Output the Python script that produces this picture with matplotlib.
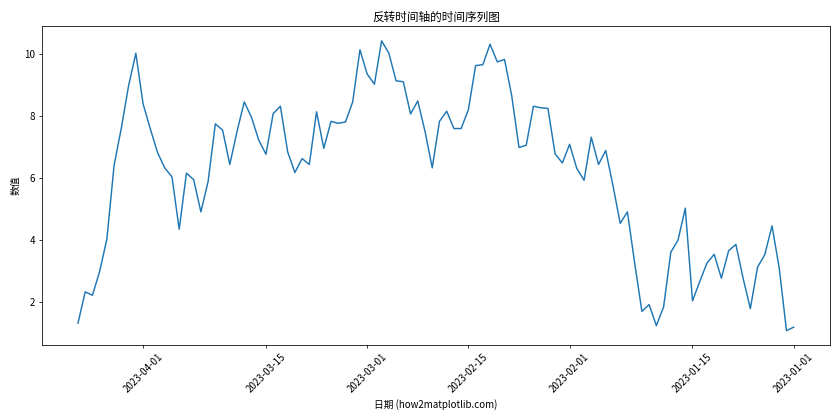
import matplotlib
matplotlib.use("Agg")
import matplotlib.pyplot as plt
import matplotlib.dates as mdates
import pandas as pd

plt.rcParams['font.family'] = ['Noto Sans CJK SC', 'DejaVu Sans']
plt.rcParams['axes.unicode_minus'] = False

# Данные (по дням, начиная с 2023-01-01)
start_date = "2023-01-01"
values = [
    1.2, 1.09, 3.1, 4.47, 3.54, 3.14, 1.8, 2.78, 3.87, 3.67,
    2.78, 3.55, 3.27, 2.67, 2.05, 5.04, 4.01, 3.62, 1.85, 1.25,
    1.93, 1.71, 3.27, 4.92, 4.55, 5.77, 6.9, 6.45, 7.33, 5.94,
    6.32, 7.1, 6.5, 6.79, 8.26, 8.28, 8.33, 7.07, 7.0, 8.66,
    9.84, 9.76, 10.33, 9.67, 9.64, 8.22, 7.61, 7.61, 8.17, 7.84,
    6.34, 7.52, 8.5, 8.08, 9.12, 9.15, 10.04, 10.44, 9.04, 9.37,
    10.15, 8.47, 7.82, 7.78, 7.84, 6.97, 8.15, 6.45, 6.64, 6.19,
    6.86, 8.33, 8.09, 6.78, 7.24, 7.97, 8.47, 7.52, 6.45, 7.56,
    7.76, 5.9, 4.92, 5.96, 6.17, 4.36, 6.05, 6.34, 6.84, 7.6,
    8.41, 10.04, 8.99, 7.63, 6.43, 4.05, 3.0, 2.23, 2.34, 1.33,
]
dates = pd.date_range(start_date, periods=len(values), freq="D")

fig, ax = plt.subplots(figsize=(12, 6), dpi=70)
ax.plot(dates, values)

ax.invert_xaxis()
ax.xaxis.set_major_formatter(mdates.DateFormatter("%Y-%m-%d"))
plt.xticks(rotation=45)

ax.set_title("反转时间轴的时间序列图")
ax.set_xlabel("日期 (how2matplotlib.com)")
ax.set_ylabel("数值")

plt.tight_layout()
plt.savefig("out.png", dpi=70)
